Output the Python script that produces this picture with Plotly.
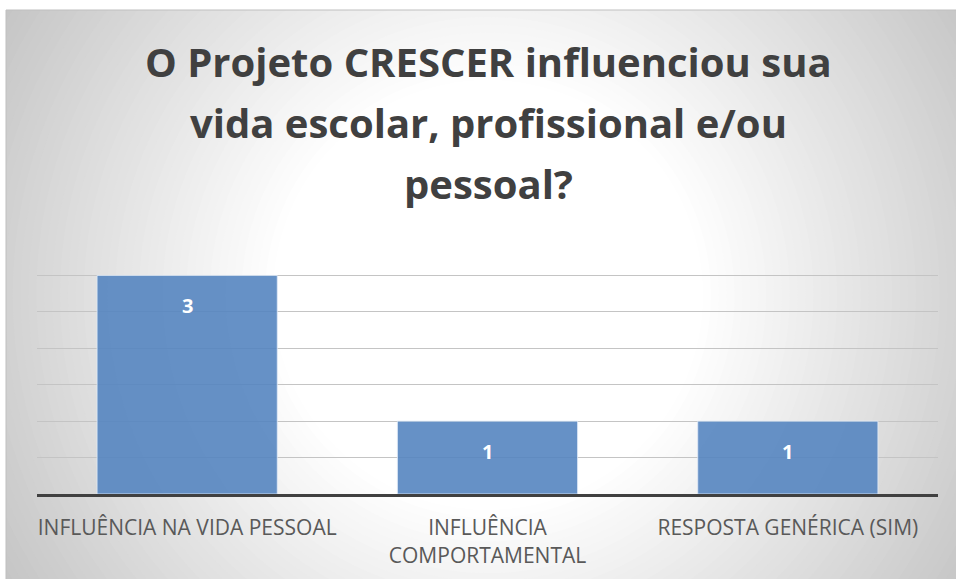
import plotly.graph_objects as go

# ---- data ----
categories = ["INFLUÊNCIA NA VIDA PESSOAL", "INFLUÊNCIA<br>COMPORTAMENTAL", "RESPOSTA GENÉRICA (SIM)"]
values = [3, 1, 1]
title_lines = ["O Projeto CRESCER influenciou sua", "vida escolar, profissional e/ou", "pessoal?"]

W, H = 956, 579


def px(x):
    return x / W


def py(y):
    return 1 - y / H


fig = go.Figure()

fig.add_trace(go.Bar(
    x=categories, y=values,
    width=0.6,
    marker=dict(color="rgba(85,133,192,0.9)", line=dict(color="rgba(225,235,248,0.8)", width=1)),
    hoverinfo="skip",
))

shapes = []
shapes.append(dict(type="rect", xref="paper", yref="paper", x0=px(6), x1=px(1100), y0=py(700), y1=py(10),
                   fillcolor="#c4c4c4", line=dict(width=0), layer="below"))
cx, cy = 488, 295
r0, r1 = 215, 570
g0 = 196
N = 45
for i in range(N + 1):
    t = 1 - i / N
    r = r0 + (r1 - r0) * t
    g = int(round(255 - (255 - g0) * t))
    col = f"rgb({g},{g},{g})"
    shapes.append(dict(type="circle", xref="paper", yref="paper",
                       x0=px(cx - r), x1=px(cx + r), y0=py(cy + r), y1=py(cy - r),
                       fillcolor=col, line=dict(width=0), layer="below"))
shapes.append(dict(type="rect", xref="paper", yref="paper", x0=px(-100), x1=px(6), y0=py(800), y1=py(-100),
                   fillcolor="white", line=dict(width=0), layer="below"))
shapes.append(dict(type="rect", xref="paper", yref="paper", x0=px(-100), x1=px(1200), y0=py(10), y1=py(-100),
                   fillcolor="white", line=dict(width=0), layer="below"))
shapes.append(dict(type="rect", xref="paper", yref="paper", x0=px(6), x1=px(1100), y0=py(700), y1=py(10),
                   fillcolor="rgba(0,0,0,0)", line=dict(width=1, color="#bfbfbf"), layer="below"))

annotations = []
title_y = [62, 123, 183]
for line, yy in zip(title_lines, title_y):
    annotations.append(dict(text=line, xref="paper", yref="paper", x=px(488), y=py(yy),
                            xanchor="center", yanchor="middle", showarrow=False,
                            font=dict(family="Open Sans", size=40, color="#404040", weight="bold")))
for c, v in zip(categories, values):
    annotations.append(dict(text=str(v), x=c, y=v, xref="x", yref="y", showarrow=False,
                            yanchor="middle", yshift=-30,
                            font=dict(family="Open Sans", size=20, color="white", weight="bold")))

fig.update_layout(
    width=W, height=H,
    margin=dict(l=0, r=0, t=0, b=0),
    paper_bgcolor="#c4c4c4",
    plot_bgcolor="rgba(0,0,0,0)",
    showlegend=False,
    shapes=shapes,
    annotations=annotations,
    xaxis=dict(domain=[px(37), px(938)], showline=True, linecolor="#404040", linewidth=3,
               ticks="", showgrid=False,
               tickfont=dict(family="Open Sans", size=21, color="#595959"),
               ticklabelstandoff=13),
    yaxis=dict(domain=[py(494), py(239)], range=[0, 3.5], dtick=0.5, showticklabels=False,
               showgrid=True, gridcolor="#c4c4c4", gridwidth=1, zeroline=False, ticks=""),
)

fig.write_html("out.html",
               config={"displayModeBar": False},
               post_script="document.documentElement.style.overflow='hidden';"
                           "document.body.style.margin='0';document.body.style.overflow='hidden';")
